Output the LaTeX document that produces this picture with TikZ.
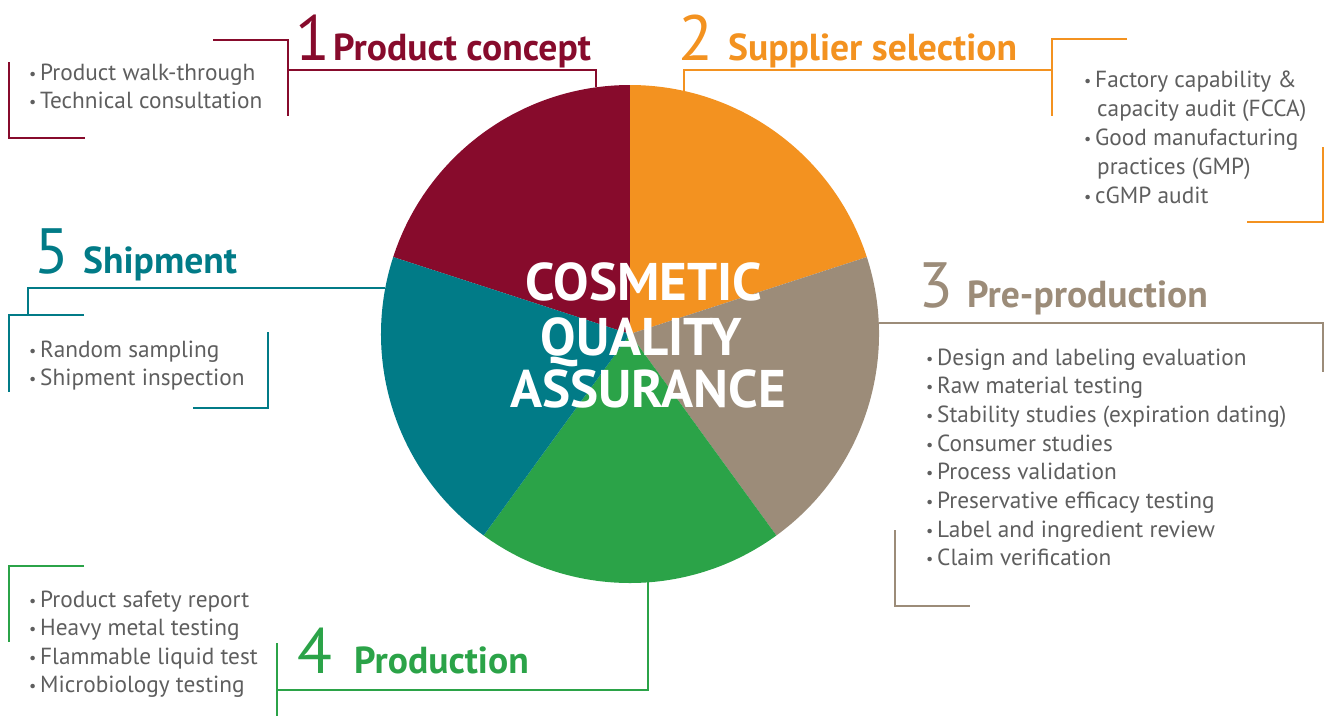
\documentclass[tikz,border=0pt]{standalone}
\usepackage{fontspec}
\setmainfont{PT Sans}
\definecolor{cmaroon}{HTML}{870B2C}
\definecolor{corange}{HTML}{F39220}
\definecolor{ctaupe}{HTML}{9C8C79}
\definecolor{cgreen}{HTML}{2BA348}
\definecolor{cteal}{HTML}{017B87}
\definecolor{ctext}{HTML}{5E5E5E}
\newcommand{\bul}{\makebox[11pt][l]{\fontsize{16}{16}\selectfont\raisebox{1pt}{•}}}
\begin{document}
\begin{tikzpicture}[x=1pt,y=-1pt,
  num/.style={anchor=base west, inner sep=0pt, font=\fontsize{64}{64}\selectfont},
  ttl/.style={anchor=base west, inner sep=0pt, font=\fontsize{37.6}{37.6}\selectfont\bfseries},
  itm/.style={anchor=base west, inner sep=0pt, text=ctext, font=\fontsize{23.3}{23.3}\selectfont},
  ctr/.style={anchor=base, inner sep=0pt, text=white, font=\fontsize{53}{53}\selectfont\bfseries},
  link/.style={line width=2pt}]
\useasboundingbox (0,0) rectangle (1329,716);
\coordinate (c) at (630,334);
% pie
\fill[cmaroon] (c) -- ++(90:249pt) arc[start angle=90, end angle=162, radius=249pt] -- cycle;
\fill[corange] (c) -- ++(18:249pt) arc[start angle=18, end angle=90, radius=249pt] -- cycle;
\fill[ctaupe] (c) -- ++(-54:249pt) arc[start angle=-54, end angle=18, radius=249pt] -- cycle;
\fill[cgreen] (c) -- ++(-126:249pt) arc[start angle=-126, end angle=-54, radius=249pt] -- cycle;
\fill[cteal] (c) -- ++(162:249pt) arc[start angle=162, end angle=234, radius=249pt] -- cycle;
\node[ctr] (cq1) at (644,300) {COSMETIC};
\node[ctr] (cq2) at (641,355) {QUALITY};
\node[ctr] (cq3) at (648,407) {ASSURANCE};
% 1 Product concept
\node[num, text=cmaroon] (n1) at (295,60) {1};
\node[ttl, text=cmaroon] (t1) at (333,60) {Product concept};
\node[itm] (i1a) at (29,80) {\bul Product walk-through};
\node[itm] (i1b) at (29,108) {\bul Technical consultation};
\coordinate (p1) at (596,87);
\draw[link, cmaroon] (213,40) -- (288,40) -- (288,116);
\draw[link, cmaroon] (288,70) -- (596,70) -- (p1);
\draw[link, cmaroon] (9,62) -- (9,138) -- (85,138);
% 2 Supplier selection
\node[num, text=corange] (n2) at (678,60) {2};
\node[ttl, text=corange] (t2) at (728,60) {Supplier selection};
\node[itm] (i2a) at (1084,87) {\bul Factory capability \&};
\node[itm] (i2b) at (1097,116) {capacity audit (FCCA)};
\node[itm] (i2c) at (1084,145) {\bul Good manufacturing};
\node[itm] (i2d) at (1097,174) {practices (GMP)};
\node[itm] (i2e) at (1084,203) {\bul cGMP audit};
\coordinate (p2) at (684,91);
\draw[link, corange] (p2) -- (684,70) -- (1052,70);
\draw[link, corange] (1127,39) -- (1052,39) -- (1052,116);
\draw[link, corange] (1323,147) -- (1323,222) -- (1247,222);
% 3 Pre-production
\node[num, text=ctaupe] (n3) at (918,307) {3};
\node[ttl, text=ctaupe] (t3) at (967,307) {Pre-production};
\foreach \t [count=\i] in {Design and labeling evaluation, Raw material testing, Stability studies (expiration dating), Consumer studies, Process validation, Preservative efficacy testing, Label and ingredient review, Claim verification}
  \node[itm] (i3-\i) at (926,{365+28.7*(\i-1)}) {\bul \t};
\coordinate (p3) at (879,323);
\draw[link, ctaupe] (p3) -- (1323,323) -- (1323,372);
\draw[link, ctaupe] (895,530) -- (895,606) -- (970,606);
% 4 Production
\node[num, text=cgreen] (n4) at (297,673) {4};
\node[ttl, text=cgreen] (t4) at (354,673) {Production};
\node[itm] (i4a) at (29,607) {\bul Product safety report};
\node[itm] (i4b) at (29,635) {\bul Heavy metal testing};
\node[itm] (i4c) at (29,664) {\bul Flammable liquid test};
\node[itm] (i4d) at (29,692) {\bul Microbiology testing};
\coordinate (p4) at (648,582);
\draw[link, cgreen] (p4) -- (648,690) -- (277,690);
\draw[link, cgreen] (277,643) -- (277,716);
\draw[link, cgreen] (84,566) -- (9,566) -- (9,642);
% 5 Shipment
\node[num, text=cteal] (n5) at (34,273) {5};
\node[ttl, text=cteal] (t5) at (83,273) {Shipment};
\node[itm] (i5a) at (29,357) {\bul Random sampling};
\node[itm] (i5b) at (29,385) {\bul Shipment inspection};
\coordinate (p5) at (385,288);
\draw[link, cteal] (p5) -- (28,288) -- (28,315);
\draw[link, cteal] (84,315) -- (9,315) -- (9,392);
\draw[link, cteal] (193,408) -- (268,408) -- (268,332);
\end{tikzpicture}
\end{document}
